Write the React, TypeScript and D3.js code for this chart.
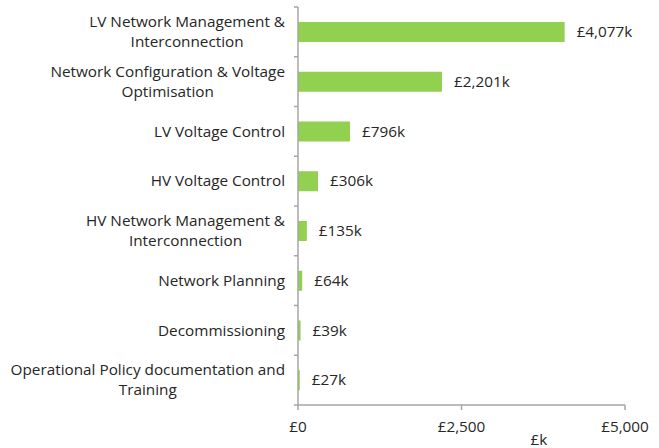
import React from "react";
import * as d3 from "d3";

const categoryLines: string[][] = [
  ["LV Network Management &", "Interconnection"],
  ["Network Configuration & Voltage", "Optimisation"],
  ["LV Voltage Control"],
  ["HV Voltage Control"],
  ["HV Network Management &", "Interconnection"],
  ["Network Planning"],
  ["Decommissioning"],
  ["Operational Policy documentation and", "Training"],
];
const values = [4077, 2201, 796, 306, 135, 64, 39, 27];
const valueLabels = ["£4,077k", "£2,201k", "£796k", "£306k", "£135k", "£64k", "£39k", "£27k"];
const xTicks = [0, 2500, 5000];
const xTickLabels = ["£0", "£2,500", "£5,000"];
const axisTitle = "£k";

const W = 659;
const H = 448;
const FONT = "'Open Sans', 'Noto Sans', sans-serif";
const FS = 15.3;
const TEXT = "#262626";
const AXIS = "#a6a6a6";
const BAR = "#92d050";

let ctx: CanvasRenderingContext2D | null = null;
function measure(t: string): number {
  if (!ctx) {
    const c = document.createElement("canvas");
    ctx = c.getContext("2d");
  }
  if (!ctx) return t.length * 7;
  ctx.font = `${FS}px ${FONT}`;
  return ctx.measureText(t).width;
}

export default function App() {
  const x = d3.scaleLinear().domain([0, 5000]).range([298, 625]);
  const idx = categoryLines.map((_, i) => String(i));
  const band = d3.scaleBand().domain(idx).range([7, 405]);
  const labelRight = 285;
  const lineH = 20;

  return (
    <svg width={W} height={H} style={{ position: "absolute", left: 0, top: 0 }} fontFamily={FONT} fontSize={FS}>
      {values.map((v, i) => (
        <rect key={"b" + i} x={x(0)} y={band(String(i))! + 15} width={x(v) - x(0)} height={20} fill={BAR} />
      ))}
      {values.map((v, i) => (
        <text key={"v" + i} x={x(v) + 12} y={band(String(i))! + band.bandwidth() / 2} dy="0.35em" fill={TEXT}>
          {valueLabels[i]}
        </text>
      ))}
      {categoryLines.map((lines, i) => {
        const bw = Math.max(...lines.map(measure));
        const cx = labelRight - bw / 2;
        const cy = band(String(i))! + band.bandwidth() / 2;
        const start = cy - ((lines.length - 1) * lineH) / 2;
        return (
          <text key={"c" + i} textAnchor="middle" fill={TEXT}>
            {lines.map((l, j) => (
              <tspan key={j} x={cx} y={start + j * lineH} dy="0.35em">
                {l}
              </tspan>
            ))}
          </text>
        );
      })}
      <line x1={x(0)} x2={x(0)} y1={7} y2={405} stroke={AXIS} strokeWidth={1.5} />
      {d3.range(categoryLines.length + 1).map((k) => {
        const yy = 7 + k * band.step();
        return <line key={"yt" + k} x1={x(0) - 4} x2={x(0)} y1={yy} y2={yy} stroke={AXIS} strokeWidth={1.5} />;
      })}
      <line x1={x(0)} x2={x(5000)} y1={405} y2={405} stroke={AXIS} strokeWidth={1.5} />
      {xTicks.map((t, i) => (
        <g key={"xt" + i}>
          <line x1={x(t)} x2={x(t)} y1={405} y2={410} stroke={AXIS} strokeWidth={1.5} />
          <text x={x(t)} y={427} dy="0.35em" textAnchor="middle" fill={TEXT}>
            {xTickLabels[i]}
          </text>
        </g>
      ))}
      <text x={539} y={440} dy="0.35em" textAnchor="middle" fill={TEXT}>
        {axisTitle}
      </text>
    </svg>
  );
}
